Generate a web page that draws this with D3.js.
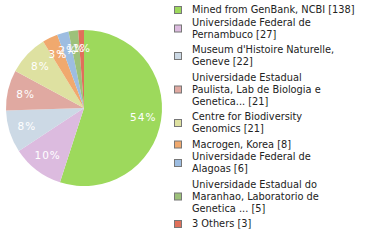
<!DOCTYPE html>
<html>
<head>
<meta charset="UTF-8">
<script src="https://d3js.org/d3.v7.min.js"></script>
<style>
  body { margin: 0; background: #fff; }
  svg { font-family: 'DejaVu Sans', sans-serif; }
</style>
</head>
<body>
<svg width="380" height="240"></svg>
<script>
const labels = [
  ["Mined from GenBank, NCBI [138]"],
  ["Universidade Federal de", "Pernambuco [27]"],
  ["Museum d'Histoire Naturelle,", "Geneve [22]"],
  ["Universidade Estadual", "Paulista, Lab de Biologia e", "Genetica... [21]"],
  ["Centre for Biodiversity", "Genomics [21]"],
  ["Macrogen, Korea [8]"],
  ["Universidade Federal de", "Alagoas [6]"],
  ["Universidade Estadual do", "Maranhao, Laboratorio de", "Genetica ... [5]"],
  ["3 Others [3]"]
];
const counts = [138, 27, 22, 21, 21, 8, 6, 5, 3];
const colors = ["#9dd95c", "#dcbbdf", "#ccd9e5", "#e0a9a1", "#dee1a1", "#f0a96e", "#9dbde1", "#9dc17a", "#e0705a"];

const svg = d3.select("svg");
const total = d3.sum(counts);
const cx = 84, cy = 108, r = 78;

const pie = d3.pie().sort(null).value(d => d);
const arcs = pie(counts);
const arc = d3.arc().innerRadius(0).outerRadius(r);
const labelArc = d3.arc().innerRadius(60).outerRadius(60);

const g = svg.append("g").attr("transform", `translate(${cx},${cy})`);
g.selectAll("path")
  .data(arcs)
  .enter().append("path")
  .attr("d", arc)
  .attr("fill", (d, i) => colors[i]);

g.selectAll("text")
  .data(arcs)
  .enter().append("text")
  .attr("transform", d => `translate(${labelArc.centroid(d)})`)
  .attr("text-anchor", "middle")
  .attr("dy", "0.35em")
  .attr("fill", "#fff")
  .attr("font-size", 10.5)
  .attr("letter-spacing", 1)
  .text(d => Math.floor(d.value / total * 100) + "%");

// legend
const lineH = 12;
let y = 10;
const leg = svg.append("g");
labels.forEach((lines, i) => {
  const mid = y + (lines.length - 1) * lineH / 2;
  leg.append("rect")
    .attr("x", 174.5).attr("y", mid - 3.5)
    .attr("width", 7).attr("height", 7)
    .attr("fill", colors[i])
    .attr("stroke", "#777").attr("stroke-width", 1);
  lines.forEach((t, j) => {
    leg.append("text")
      .attr("x", 192).attr("y", y + j * lineH)
      .attr("dy", "0.35em")
      .attr("font-size", 9.8)
      .attr("fill", "#222")
      .text(t);
  });
  y += lines.length * lineH + (lines.length > 1 ? 3.5 : 0.5);
});
</script>
</body>
</html>
